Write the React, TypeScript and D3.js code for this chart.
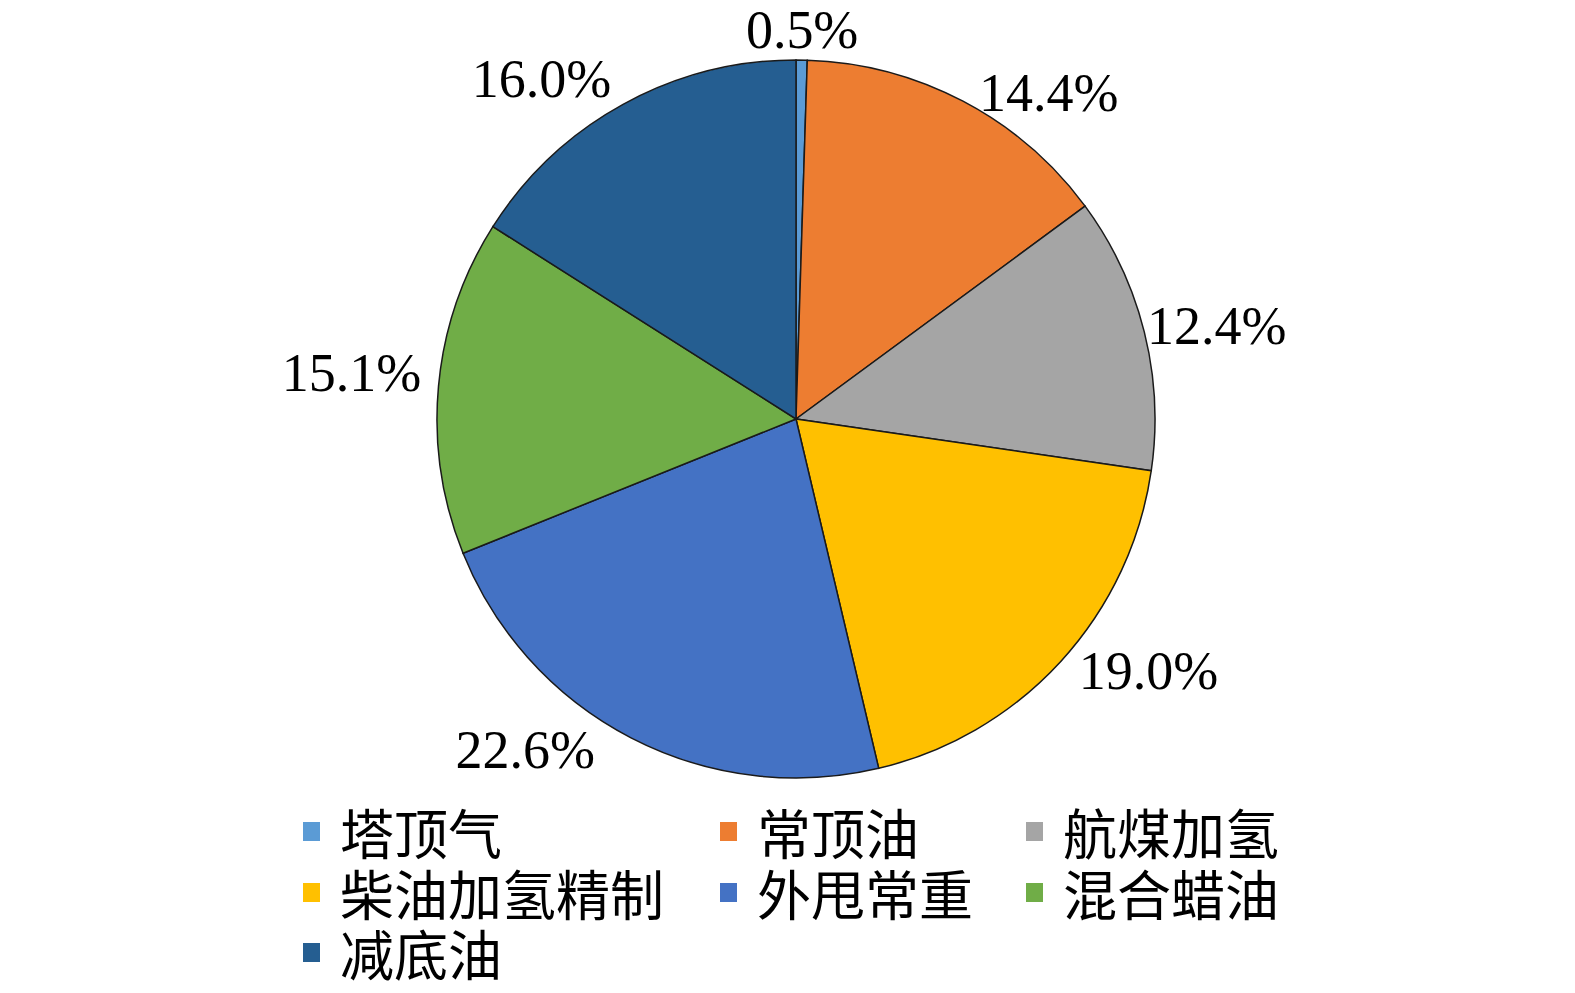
import React from "react";
import * as d3 from "d3";

const categories = ["塔顶气", "常顶油", "航煤加氢", "柴油加氢精制", "外甩常重", "混合蜡油", "减底油"];
const values = [0.5, 14.4, 12.4, 19.0, 22.6, 15.1, 16.0];
const colors = ["#5B9BD5", "#ED7D31", "#A5A5A5", "#FFC000", "#4472C4", "#70AD47", "#255E91"];

// layout: label angle nudge (deg) and distance from centre
const labelLayout = [
  { da: 0, r: 389 },
  { da: 10, r: 413 },
  { da: 1.5, r: 431 },
  { da: -7, r: 433 },
  { da: 12, r: 427 },
  { da: 0.7, r: 447 },
  { da: -8, r: 425 },
];

const W = 1575;
const H = 993;
const cx = 796;
const cy = 419;
const R = 359;

export default function App() {
  const pie = d3.pie<number>().sort(null).startAngle(0).endAngle(2 * Math.PI);
  const arcs = pie(values);
  const arc = d3.arc<d3.PieArcDatum<number>>().innerRadius(0).outerRadius(R);

  const legendCols = [340, 757, 1063];
  const legendRows = [831, 892, 952];

  return (
    <svg
      width={W}
      height={H}
      style={{ position: "absolute", left: 0, top: 0, background: "#fff" }}
    >
      <g transform={`translate(${cx},${cy})`}>
        {arcs.map((a, i) => (
          <path key={i} d={arc(a) || ""} fill={colors[i]} stroke="#1a1a1a" strokeWidth={1.5} />
        ))}
        {arcs.map((a, i) => {
          const mid = (a.startAngle + a.endAngle) / 2 + (labelLayout[i].da * Math.PI) / 180;
          const r = labelLayout[i].r;
          const x = r * Math.sin(mid);
          const y = -r * Math.cos(mid);
          return (
            <text
              key={i}
              x={x}
              y={y}
              dy="0.34em"
              textAnchor="middle"
              fontFamily="'Liberation Serif', 'Times New Roman', serif"
              fontSize={54}
              fill="#000"
            >
              {d3.format(".1f")(values[i])}%
            </text>
          );
        })}
      </g>
      <g>
        {categories.map((c, i) => {
          const col = i % 3;
          const row = Math.floor(i / 3);
          const tx = legendCols[col];
          const ty = legendRows[row];
          return (
            <g key={c}>
              <rect x={tx - 37} y={ty - 9} width={17} height={19} fill={colors[i]} />
              <text
                x={tx}
                y={ty}
                dominantBaseline="central"
                fontFamily="'Noto Sans CJK SC', sans-serif"
                fontSize={54}
                fill="#000"
              >
                {c}
              </text>
            </g>
          );
        })}
      </g>
    </svg>
  );
}
